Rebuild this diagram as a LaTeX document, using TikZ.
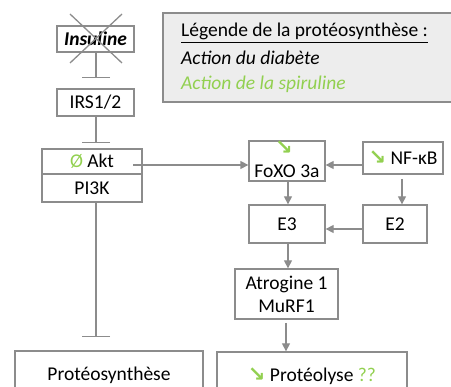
\documentclass[tikz,border=0pt]{standalone}
\usepackage{fontspec}
\setmainfont{Carlito}
\newfontfamily\symbfont{DejaVu Sans}
\usetikzlibrary{arrows.meta}
\definecolor{trait}{RGB}{140,140,140}
\definecolor{vert}{RGB}{146,208,80}
\definecolor{fondleg}{RGB}{237,237,237}
\newcommand{\baisse}{{\symbfont\bfseries\fontsize{21}{21}\selectfont\color{vert}\char"2198}}

\begin{document}
\begin{tikzpicture}[x=1pt, y=-1pt,
    boite/.style={draw=trait, line width=1.3pt, inner sep=0pt, font=\fontsize{19.5}{23}\selectfont},
    fleche/.style={trait, line width=1.3pt, -{Triangle[length=8pt, width=8pt]}},
    inhib/.style={trait, line width=1.3pt, -{Bar[width=28pt]}}]

\useasboundingbox (0,0) rectangle (451,387);

% legende
\node [draw=trait, line width=1.3pt, fill=fondleg, minimum width=297pt, minimum height=89pt, inner sep=0pt] (legende) at (311.5,57.5){};
\node [anchor=base west, font=\fontsize{19.5}{23}\selectfont, inner sep=0pt] (leg1) at (181,37){\underline{Légende de la protéosynthèse :}};
\node [anchor=base west, font=\fontsize{19.5}{23}\selectfont\itshape, inner sep=0pt] (leg2) at (181,65){Action du diabète};
\node [anchor=base west, font=\fontsize{19.5}{23}\selectfont\itshape, text=vert, inner sep=0pt] (leg3) at (181,90){Action de la spiruline};

% voie de l'insuline
\node [boite, minimum width=77pt, minimum height=26pt] (insuline) at (95.5,39){\bfseries\itshape Insuline};
\draw [trait, line width=1.3pt] (70,14) -- (122,63);
\draw [trait, line width=1.3pt] (122,14) -- (70,63);
\node [boite, minimum width=77pt, minimum height=27pt] (irs) at (95.5,102.5){IRS1/2};
\node [boite, minimum width=100pt, minimum height=25pt] (akt) at (92,161.5){\textcolor{vert}{Ø} Akt};
\node [boite, minimum width=100pt, minimum height=28pt] (pik) at (92,188){PI3K};
\node [boite, minimum width=188pt, minimum height=49pt] (synthese) at (109,375.5){Protéosynthèse};

% voie de la proteolyse
\node [boite, minimum width=76pt, text height=37pt, text depth=3pt] (foxo) at (287,161){FoXO 3a};
\node [inner sep=0pt] (foxofl) at (284,148){\baisse};
\node [boite, minimum width=80pt, minimum height=32pt] (nfkb) at (403,158){\baisse\ NF-κB};
\node [boite, minimum width=76pt, minimum height=38pt] (e3) at (287,224){E3};
\node [boite, minimum width=64pt, minimum height=38pt] (e2) at (395,224){E2};
\node [boite, minimum width=103pt, minimum height=50pt, align=center] (atro) at (286.5,294){Atrogine 1\\MuRF1};
\node [boite, minimum width=190pt, minimum height=48pt] (lyse) at (312,376){\baisse\ Protéolyse \textcolor{vert}{??}};

% liaisons
\coordinate (b1) at (96,78);
\coordinate (b2) at (96,143);
\coordinate (b3) at (96,337);
\coordinate (aktd) at (133,165);
\draw [inhib] (insuline.south -| b1) -- (b1);
\draw [inhib] (irs.south -| b2) -- (b2);
\draw [inhib] (pik.south -| b3) -- (b3);
\draw [fleche] (aktd) -- (aktd -| foxo.west);
\draw [fleche] (nfkb.west |- aktd) -- (aktd -| foxo.east);
\draw [fleche] (foxo.south -| 288,0) -- (e3.north -| 288,0);
\draw [fleche] (402,179) -- (e2.north -| 402,0);
\draw [fleche] (e2.west |- 0,229) -- (e3.east |- 0,229);
\draw [fleche] (e3.south -| 288,0) -- (atro.north -| 288,0);
\draw [fleche] (286,323) -- (lyse.north -| 286,0);
\end{tikzpicture}
\end{document}
